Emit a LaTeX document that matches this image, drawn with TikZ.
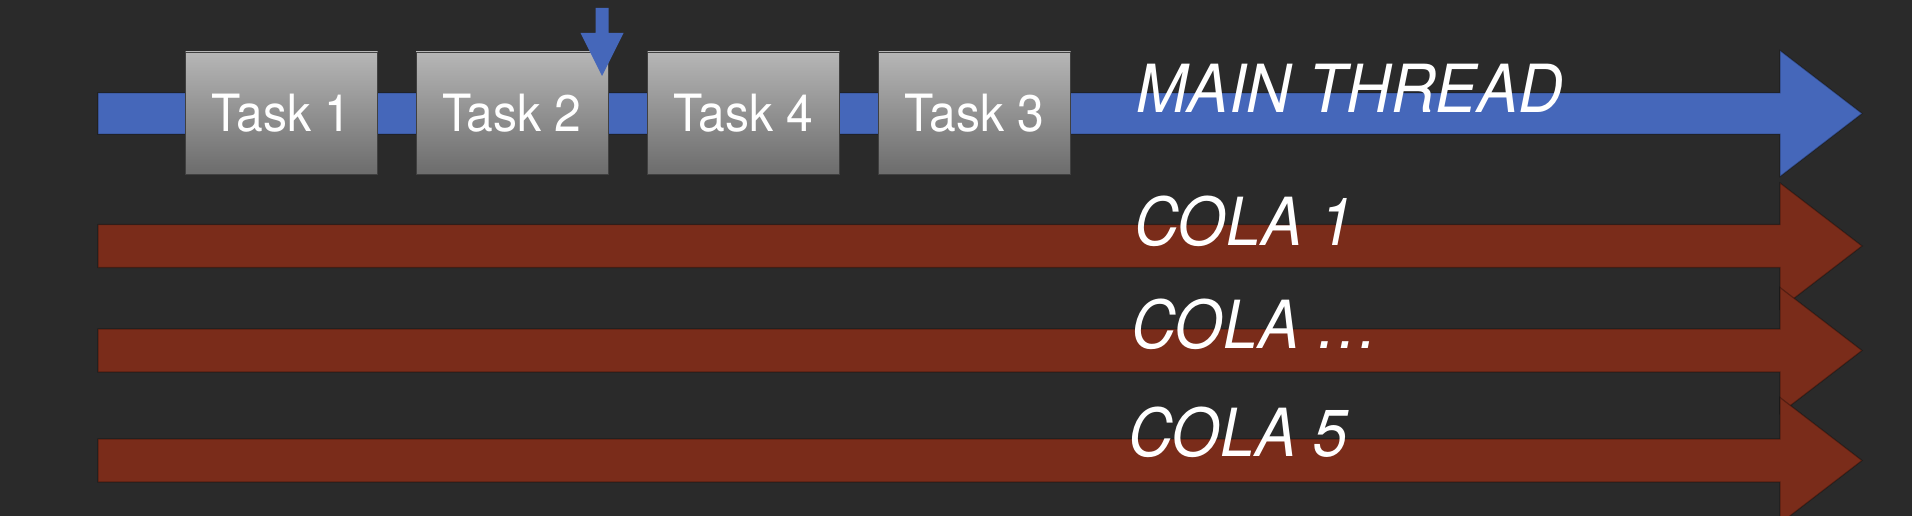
\documentclass[tikz,border=0pt]{standalone}
\usepackage{fontspec}
\setmainfont{TeX Gyre Heros}
\definecolor{bgc}{RGB}{42,42,42}
\definecolor{bluec}{RGB}{69,103,186}
\definecolor{redc}{RGB}{122,44,26}
\definecolor{boxtop}{RGB}{182,182,182}
\definecolor{boxbot}{RGB}{108,108,108}
\newcommand\fatarrow[3]{%
  \fill[#1, draw=black, draw opacity=0.3, line width=1.2pt]
    (98,#2-#3) -- (1780,#2-#3) -- (1780,#2-63) -- (1862,#2) --
    (1780,#2+63) -- (1780,#2+#3) -- (98,#2+#3) -- cycle;}
\newcommand\tall[1]{\scalebox{1}[1.07]{#1}}
\begin{document}
\begin{tikzpicture}[x=1pt,y=-1pt,
  taskbox/.style={draw=black!75, line width=0.8pt, top color=boxtop, bottom color=boxbot,
    minimum width=192pt, minimum height=122pt, inner sep=0pt, text=white,
    font=\fontsize{48}{50}\selectfont},
  lbl/.style={text=white, inner sep=0pt, anchor=base west,
    font=\itshape\fontsize{62}{64}\selectfont}]
\fill[bgc] (0,0) rectangle (1912,516);
\useasboundingbox (0,0) rectangle (1912,516);
% threads
\fatarrow{bluec}{113.5}{20.7}
\fatarrow{redc}{246}{21.5}
\fatarrow{redc}{350.5}{21.5}
\fatarrow{redc}{460.5}{21.5}
% tasks
\node[taskbox] (t1) at (281.5,113) {\tall{Task 1}};
\node[taskbox] (t2) at (512,113) {\tall{Task 2}};
\node[taskbox] (t4) at (743.5,113) {\tall{Task 4}};
\node[taskbox] (t3) at (974.5,113) {\tall{Task 3}};
% small down arrow
\fill[bluec] (595.5,8) -- (608.5,8) -- (608.5,33) -- (623.5,33) -- (602,76) --
  (580.5,33) -- (595.5,33) -- cycle;
% labels
\node[lbl] (main) at (1136,113) {\tall{MAIN THREAD}};
\node[lbl] (c1) at (1134,245) {\tall{COLA 1}};
\node[lbl] (c2) at (1131,348) {\tall{COLA …}};
\node[lbl] (c5) at (1128,456) {\tall{COLA 5}};
\end{tikzpicture}
\end{document}
